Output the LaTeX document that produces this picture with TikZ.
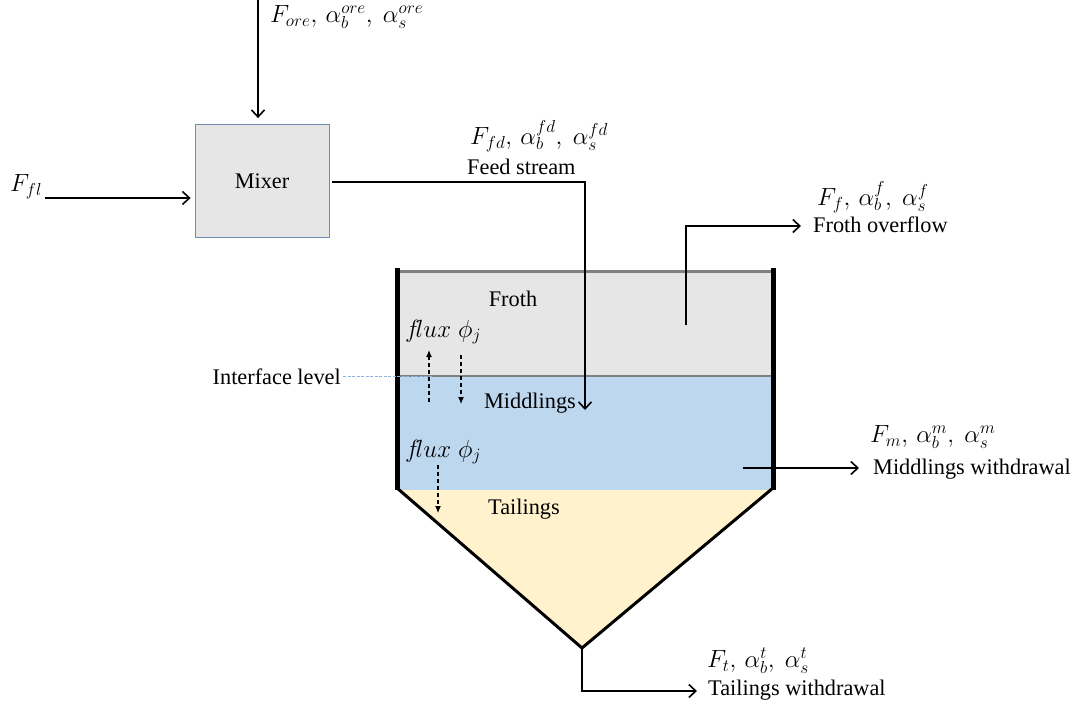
\documentclass[tikz,border=0pt]{standalone}
\usepackage{fontspec}
\setmainfont{Liberation Serif}
\usetikzlibrary{arrows.meta}
\definecolor{frothc}{HTML}{E6E6E6}
\definecolor{midc}{HTML}{BDD7EE}
\definecolor{tailc}{HTML}{FFF2CC}
\definecolor{mixborder}{HTML}{6D8DB4}
\definecolor{edgegray}{HTML}{808080}
\definecolor{ifblue}{HTML}{8FB4DC}
\begin{document}
\begin{tikzpicture}[x=1pt,y=-1pt,
  font=\fontsize{22.3}{26}\selectfont,
  arr/.style={line width=1.6pt,-{Straight Barb[length=7pt,width=13pt,line width=1.6pt]}},
  fluxarr/.style={line width=1.1pt,dashed,dash pattern=on 4pt off 3pt,-{Latex[length=7pt,width=6pt]}},
  lbl/.style={inner sep=0pt},
  mlbl/.style={inner sep=0pt,font=\fontsize{25}{30}\selectfont},
  mixer/.style={draw=mixborder,fill=frothc,line width=0.8pt,minimum width=134pt,minimum height=113pt,inner sep=0pt}]
\useasboundingbox (0,0) rectangle (1079,707);

% tank fills
\fill[frothc] (397,271) rectangle (773,376);
\fill[midc] (397,376) rectangle (773,490);
\fill[tailc] (397,490) -- (773,490) -- (582,648) -- cycle;
\draw[edgegray,line width=3pt] (397,271) -- (773,271);
\draw[edgegray,line width=1.2pt] (397,376) -- (773,376);
\coordinate (lwt) at (397,268);
\coordinate (lwb) at (397,490);
\coordinate (rwt) at (773,268);
\coordinate (rwb) at (773,490);
\coordinate (apex) at (582,648);
\draw[line width=5pt] (lwt) -- (lwb);
\draw[line width=5pt] (rwt) -- (rwb);
\draw[line width=3pt,line join=miter] ([yshift=2pt]lwb) -- (apex) -- ([yshift=2pt]rwb);

% mixer
\node[mixer] (mix) at (262,181) {Mixer};

% ore feed
\coordinate (oretop) at (258,0);
\draw[arr,shorten >=6pt] (oretop) -- (oretop |- mix.north);
\node[mlbl,anchor=west] (orelbl) at (270,17) {$F_{ore},\,\alpha_b^{ore},\ \alpha_s^{ore}$};

% F_fl
\coordinate (flstart) at (45,198);
\draw[arr,shorten >=4pt] (flstart) -- (flstart -| mix.west);
\node[mlbl,anchor=west] (fllbl) at (10,187) {$F_{fl}$};

% feed stream
\coordinate (feedstart) at (332,182);
\coordinate (feedend) at (585,410);
\draw[arr] (feedstart) -| (feedend);
\node[mlbl,anchor=west] (fdlbl) at (470,136) {$F_{fd},\,\alpha_b^{fd},\ \alpha_s^{fd}$};
\node[lbl,anchor=west] (fdtxt) at (467,167) {Feed stream};

% froth overflow
\coordinate (fo1) at (686,325);
\coordinate (fo2) at (801,226);
\draw[arr] (fo1) |- (fo2);
\node[mlbl,anchor=west] (folbl) at (817,197) {$F_{f},\,\alpha_b^{f},\ \alpha_s^{f}$};
\node[lbl,anchor=west] (fotxt) at (813,225) {Froth overflow};

% middlings withdrawal
\coordinate (mw1) at (743,468);
\coordinate (mw2) at (859,468);
\draw[arr] (mw1) -- (mw2);
\node[mlbl,anchor=west] (mwlbl) at (870,437) {$F_{m},\,\alpha_b^{m},\ \alpha_s^{m}$};
\node[lbl,anchor=west] (mwtxt) at (873,469) {Middlings withdrawal};

% tailings withdrawal
\coordinate (tw) at (697,691);
\draw[arr] (apex) |- (tw);
\node[mlbl,anchor=west] (twlbl) at (707,661) {$F_{t},\,\alpha_b^{t},\ \alpha_s^{t}$};
\node[lbl,anchor=west] (twtxt) at (708,690) {Tailings withdrawal};

% zone labels
\node[lbl] (froth) at (513,299) {Froth};
\node[lbl] (midd) at (530,403) {Middlings};
\node[lbl] (tail) at (524,509) {Tailings};

% interface
\node[lbl,anchor=east] (iflbl) at (341,377) {Interface level};
\coordinate (ifend) at (432,376);
\draw[ifblue,line width=0.9pt,dash pattern=on 3pt off 1.5pt] ([xshift=2pt]iflbl.east |- ifend) -- (ifend);

% fluxes
\node[mlbl,anchor=west] (flux1) at (405,332) {$f\!lux\;\phi_j$};
\node[mlbl,anchor=west] (flux2) at (405,452) {$f\!lux\;\phi_j$};
\coordinate (u1) at (429,402);
\coordinate (u2) at (429,350);
\coordinate (d1) at (461,355);
\coordinate (d2) at (461,404);
\coordinate (e1) at (438,465);
\coordinate (e2) at (438,513);
\draw[fluxarr] (u1) -- (u2);
\draw[fluxarr] (d1) -- (d2);
\draw[fluxarr] (e1) -- (e2);
\end{tikzpicture}
\end{document}
